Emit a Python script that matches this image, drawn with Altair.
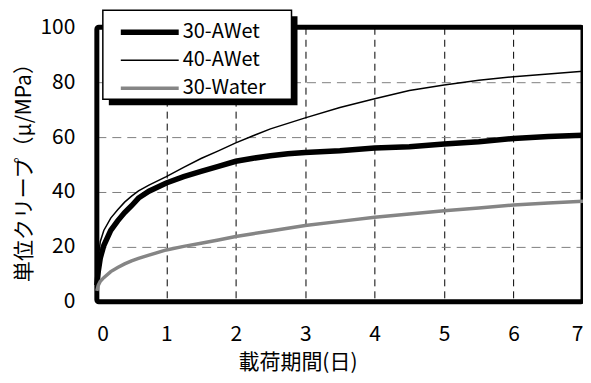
import altair as alt
import pandas as pd

# ---- data ----
time_days = [0, 0.02, 0.05, 0.1, 0.2, 0.3, 0.4, 0.5, 0.6, 0.75, 1.0, 1.25, 1.5, 1.75,
             2.0, 2.25, 2.5, 2.75, 3.0, 3.5, 4.0, 4.5, 5.0, 5.5, 6.0, 6.5, 7.0]
awet30 = [6, 11, 16, 20.5, 26, 29.5, 32.5, 35, 37.8, 40.3, 43.3, 45.6, 47.5, 49.3,
          51.2, 52.3, 53.2, 53.9, 54.4, 55.0, 56.0, 56.5, 57.5, 58.3, 59.5, 60.2, 60.7]
awet40 = [8, 16, 22, 26, 30.5, 33.5, 36.3, 38.5, 40.4, 42.5, 45.6, 49, 52.2, 55,
          57.9, 60.5, 63, 65, 67, 70.8, 74, 77, 79, 80.7, 82, 83, 84]
water30 = [4, 6, 7.5, 8.8, 11, 12.5, 13.8, 14.9, 15.8, 17, 18.9, 20.2, 21.3, 22.5,
           23.8, 24.8, 25.8, 26.8, 27.8, 29.3, 30.8, 32, 33.2, 34.2, 35.3, 36, 36.6]
series_names = ["30-AWet", "40-AWet", "30-Water"]
series_colors = ["#000000", "#000000", "#858585"]
series_widths = [5.5, 1.5, 3.5]
x_ticks = [0, 1, 2, 3, 4, 5, 6, 7]
y_ticks = [0, 20, 40, 60, 80, 100]

rows = []
for name, vals in zip(series_names, [awet30, awet40, water30]):
    for t, v in zip(time_days, vals):
        rows.append({"t": t, "v": v, "s": name})
df = pd.DataFrame(rows)
one = pd.DataFrame({"k": [0]})

W, H = 487, 275
FONT = "Noto Sans CJK JP"
FS = 21

x_enc = alt.X("t:Q", scale=alt.Scale(domain=[0, 7], nice=False),
              axis=alt.Axis(values=x_ticks, format="d", grid=True, gridColor="#000000",
                            gridDash=[7, 5], gridWidth=1, domain=False, ticks=False,
                            labelFontSize=FS, labelPadding=33, labelBaseline="middle",
                            labelColor="#000000", labelFont=FONT,
                            title="載荷期間(日)", titleFontSize=FS, titleFontWeight="normal",
                            titleFont=FONT, titleColor="#000000",
                            titleX=201, titleY=61, titleBaseline="middle", titleAlign="center"))
y_enc = alt.Y("v:Q", scale=alt.Scale(domain=[0, 100], nice=False),
              axis=alt.Axis(values=y_ticks, grid=True, gridColor="#808080",
                            gridDash=[9, 6], gridWidth=1, domain=False, ticks=False,
                            labelFontSize=FS, labelPadding=22, labelColor="#000000",
                            labelFont=FONT,
                            title="単位クリープ（μ/MPa）", titleFontSize=FS,
                            titleFontWeight="normal", titleFont=FONT, titleColor="#000000",
                            titleX=-72, titleY=140, titleAngle=270,
                            titleBaseline="middle", titleAlign="center"))

frame = alt.Chart(one).mark_rect(fill=None, stroke="#000000", strokeWidth=5,
                                 cornerRadius=2).encode(
    x=alt.value(0), x2=alt.value(W), y=alt.value(0), y2=alt.value(H))

lines = alt.Chart(df).mark_line().encode(
    x=x_enc, y=y_enc,
    color=alt.Color("s:N", scale=alt.Scale(domain=series_names, range=series_colors),
                    legend=alt.Legend(title=None)),
    strokeWidth=alt.StrokeWidth("s:N",
                                scale=alt.Scale(type="ordinal", domain=series_names,
                                                range=series_widths),
                                legend=alt.Legend(title=None)),
)

shadow = alt.Chart(one).mark_rect(fill="#000000").encode(
    x=alt.value(12), x2=alt.value(201), y=alt.value(-11), y2=alt.value(78))
box = alt.Chart(one).mark_rect(fill="#ffffff", stroke="#000000", strokeWidth=1.5).encode(
    x=alt.value(6), x2=alt.value(195), y=alt.value(-17), y2=alt.value(72))

chart = alt.layer(frame, lines, shadow, box).properties(
    width=W, height=H,
    autosize=alt.AutoSizeParams(type="none"),
    padding={"left": 89, "top": 19, "right": 0, "bottom": 73},
).configure_view(stroke=None).configure(font=FONT).configure_legend(
    orient="none", legendX=40, legendY=-8, padding=0,
    symbolType="M-2.9,0H2.9", symbolSize=400, labelOffset=20,
    labelFontSize=20, labelFont=FONT, labelColor="#000000", rowPadding=6,
)

chart.save("out.html", embed_options={"renderer": "svg", "actions": False})
